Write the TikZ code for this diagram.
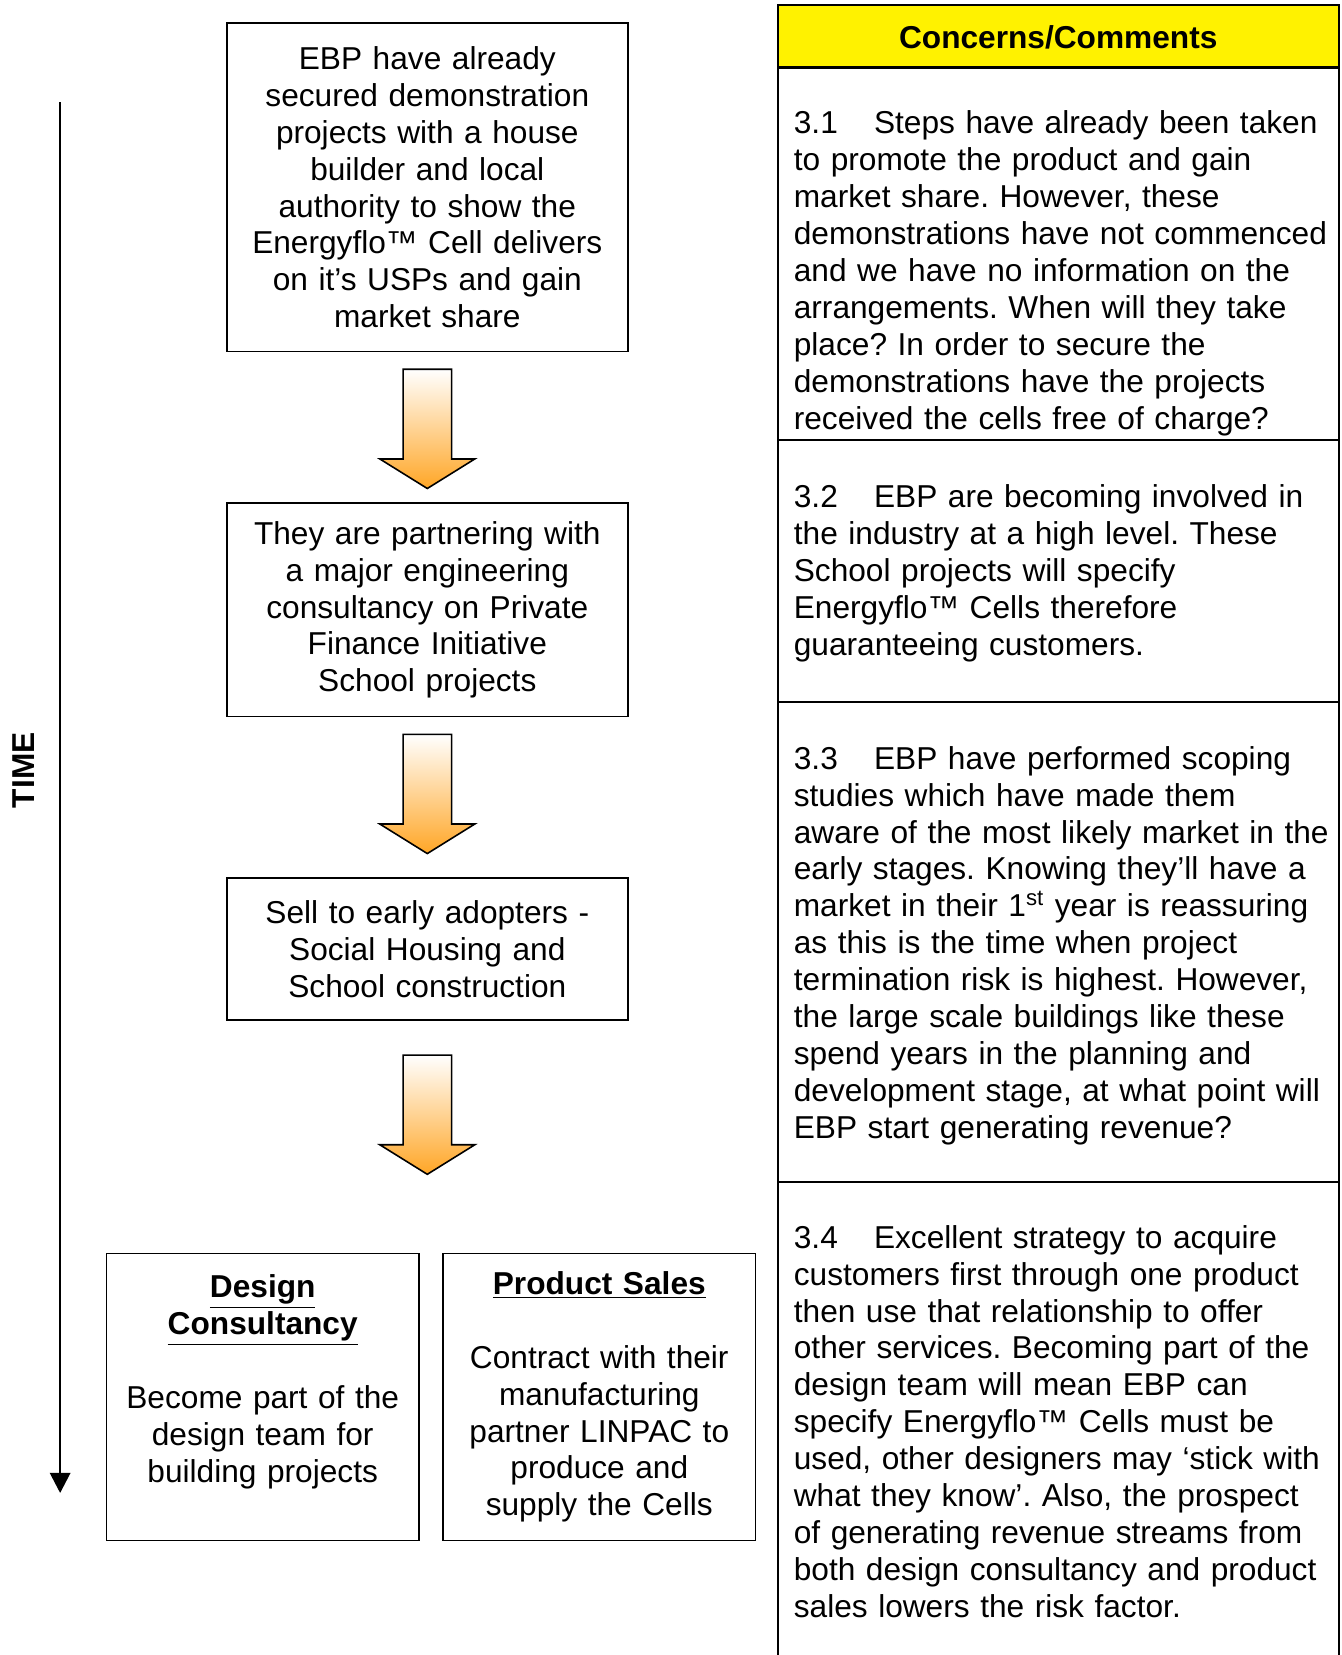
\documentclass[tikz,border=0pt]{standalone}
\usepackage{fontspec}
\setmainfont{Liberation Sans}
\usetikzlibrary{arrows.meta,
calc,
positioning}
\definecolor{arroworange}{RGB}{255,166,38}
\frenchspacing

\begin{document}
\begin{tikzpicture}[
				x=0.5pt, y=-0.5pt,
				every node/.style={font=\fontsize{15pt}{17.5pt}\selectfont},
				headtext/.style={font=\fontsize{15pt}{17.5pt}\selectfont\bfseries},
				flowbox/.style={draw, line width=0.75pt, align=center, inner sep=0pt, outer sep=0pt},
				blockarrow/.style={draw, line width=0.75pt, top color=white, bottom color=arroworange},
				comment/.style={anchor=base west, align=left, text width=262pt, inner sep=0pt},
				rule/.style={line width=1pt}
			]
				\useasboundingbox (0,0) rectangle (1271,1568.6);
				\node [flowbox, text width=180pt, minimum width=190pt, minimum height=155.5pt] (ebp) at (405,177.5) {EBP have already\\secured demonstration\\projects with a house\\builder and local\\authority to show the\\Energyflo™ Cell delivers\\on it’s USPs and gain\\market share};
				\node [flowbox, text width=180pt, minimum width=190pt, minimum height=101pt, below=72pt of ebp] (partner) {They are partnering with\\a major engineering\\consultancy on Private\\Finance Initiative\\School projects};
				\node [flowbox, text width=180pt, minimum width=190pt, minimum height=67.5pt, below=76.5pt of partner] (adopters) {Sell to early adopters -\\Social Housing and\\School construction};
				\node [flowbox, text width=140pt, minimum width=148pt, minimum height=136pt] (design) at (249,1324) {\underline{\textbf{Design}}\\\underline{\textbf{Consultancy}}\\[17.5pt]Become part of the\\design team for\\building projects\\\mbox{}};
				\node [flowbox, text width=140pt, minimum width=148pt, minimum height=136pt, right=11.5pt of design] (sales) {\underline{\textbf{Product Sales}}\\[17.5pt]Contract with their\\manufacturing\\partner LINPAC to\\produce and\\supply the Cells};
				\foreach \src/\gap in {ebp/17, partner/17, adopters/33}
					\path[blockarrow] ($(\src.south)+(0,\gap)$) ++(-23,0) -- ++(46,0) -- ++(0,85) -- ++(22,0) -- ++(-45,28) -- ++(-45,-28) -- ++(22,0) -- cycle;
				\coordinate (timetop) at (57,97);
				\coordinate (timeend) at (57,1415);
				\draw[line width=0.75pt, -{Triangle[length=9.5pt,width=9.7pt]}] (timetop) -- (timeend);
				\node [headtext, rotate=90] (time) at (22,730) {TIME};
				\node [draw, rule, fill=yellow, minimum width=266pt, minimum height=29.5pt, inner sep=0pt, text height=14pt, text depth=3pt, headtext] (header) at (1003,34.5) {Concerns/Comments};
				\draw[rule] (737,5) -- (737,1570) (1269,5) -- (1269,1570);
				\foreach \y in {417,665,1120}
					\draw[rule] (737,\y) -- (1269,\y);
				\node [comment] (c31) at (752,127) {\makebox[38pt][l]{3.1}Steps have already been taken\\to promote the product and gain\\market share. However, these\\demonstrations have not commenced\\and we have no information on the\\arrangements. When will they take\\place? In order to secure the\\demonstrations have the projects\\received the cells free of charge?};
				\node [comment] (c32) at (752,481) {\makebox[38pt][l]{3.2}EBP are becoming involved in\\the industry at a high level. These\\School projects will specify\\Energyflo™ Cells therefore\\guaranteeing customers.};
				\node [comment] (c33) at (752,729) {\makebox[38pt][l]{3.3}EBP have performed scoping\\studies which have made them\\aware of the most likely market in the\\early stages. Knowing they’ll have a\\market in their 1\textsuperscript{st} year is reassuring\\as this is the time when project\\termination risk is highest. However,\\the large scale buildings like these\\spend years in the planning and\\development stage, at what point will\\EBP start generating revenue?};
				\node [comment] (c34) at (752,1183) {\makebox[38pt][l]{3.4}Excellent strategy to acquire\\customers first through one product\\then use that relationship to offer\\other services. Becoming part of the\\design team will mean EBP can\\specify Energyflo™ Cells must be\\used, other designers may ‘stick with\\what they know’. Also, the prospect\\of generating revenue streams from\\both design consultancy and product\\sales lowers the risk factor.};
			\end{tikzpicture}
\end{document}
